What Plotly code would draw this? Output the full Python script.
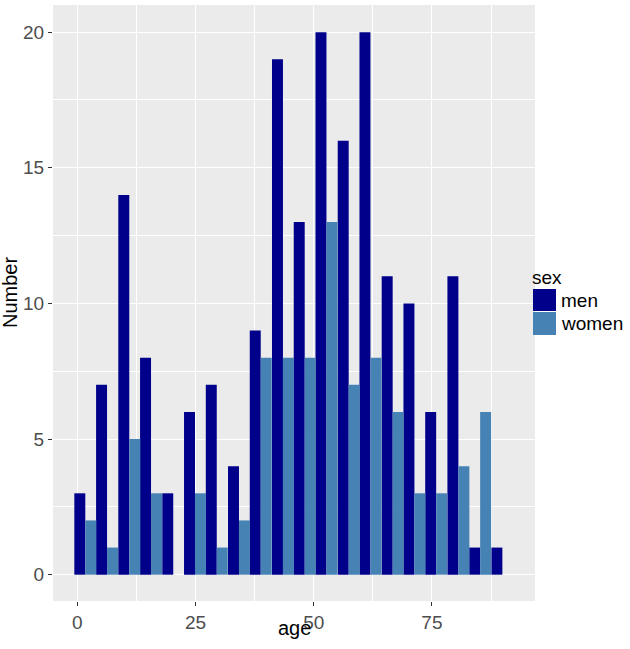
import plotly.graph_objects as go

# Data
age_centers = [1.7, 6.3, 11.0, 15.6, 20.3, 24.9, 29.5, 34.2, 38.8, 43.5,
               48.1, 52.7, 57.4, 62.0, 66.7, 71.3, 75.9, 80.6, 85.2, 89.9]
men = [3, 7, 14, 8, 3, 6, 7, 4, 9, 19, 13, 20, 16, 20, 11, 10, 6, 11, 1, 1]
women = [2, 1, 5, 3, 0, 3, 1, 2, 8, 8, 8, 13, 7, 8, 6, 3, 3, 4, 6, 0]
series_names = ["men", "women"]
x_ticks = [0, 25, 50, 75]
y_ticks = [0, 5, 10, 15, 20]

MEN_COLOR = "#00008B"
WOMEN_COLOR = "#4682B4"
HALF = 2.32
FONT = "Liberation Sans, Arial, sans-serif"

fig = go.Figure()
fig.add_trace(go.Bar(x=age_centers, y=men, name=series_names[0], width=HALF, offset=-HALF,
                     marker=dict(color=MEN_COLOR, line=dict(width=0)), showlegend=False))
fig.add_trace(go.Bar(x=age_centers, y=women, name=series_names[1], width=HALF, offset=0,
                     marker=dict(color=WOMEN_COLOR, line=dict(width=0)), showlegend=False))

fig.update_layout(
    width=630, height=649,
    margin=dict(l=53, r=95, t=5, b=48, autoexpand=False),
    paper_bgcolor="white",
    plot_bgcolor="#EBEBEB",
    barmode="overlay",
    font=dict(family=FONT, size=19, color="#4D4D4D"),
    xaxis=dict(range=[-5.13, 96.8], tickvals=x_ticks, ticktext=[str(v) for v in x_ticks],
               automargin=False,
               showgrid=True, gridcolor="white", gridwidth=1.1, zeroline=False,
               ticks="outside", ticklen=4, tickcolor="#333333", tickwidth=1,
               tickfont=dict(size=19, color="#4D4D4D", family=FONT),
               minor=dict(tick0=0, dtick=12.5, showgrid=True, gridcolor="white", gridwidth=0.55, ticks=""),
               showline=False),
    yaxis=dict(range=[-0.97, 21.0], tickvals=y_ticks, ticktext=[str(v) for v in y_ticks],
               automargin=False,
               showgrid=True, gridcolor="white", gridwidth=1.1, zeroline=False,
               ticks="outside", ticklen=4, tickcolor="#333333", tickwidth=1,
               tickfont=dict(size=19, color="#4D4D4D", family=FONT),
               minor=dict(tick0=0, dtick=2.5, showgrid=True, gridcolor="white", gridwidth=0.55, ticks=""),
               showline=False),
)

PH = 649 - 5 - 48  # plot height in px
PW = 630 - 53 - 95

def px_to_paper_y(py):
    return (649 - 48 - py) / PH

def px_to_paper_x(px):
    return (px - 53) / PW

annotations = [
    dict(text="age", x=0.5, y=px_to_paper_y(628), xref="paper", yref="paper",
         xanchor="center", yanchor="middle", showarrow=False,
         font=dict(size=20, color="black", family=FONT)),
    dict(text="Number", x=px_to_paper_x(10), y=px_to_paper_y(293), xref="paper", yref="paper",
         xanchor="center", yanchor="middle", textangle=-90, showarrow=False,
         font=dict(size=20, color="black", family=FONT)),
    dict(text="sex", x=px_to_paper_x(530), y=px_to_paper_y(277), xref="paper", yref="paper",
         xanchor="left", yanchor="middle", showarrow=False,
         font=dict(size=19, color="black", family=FONT)),
    dict(text=series_names[0], x=px_to_paper_x(559), y=px_to_paper_y(300), xref="paper", yref="paper",
         xanchor="left", yanchor="middle", showarrow=False,
         font=dict(size=19, color="black", family=FONT)),
    dict(text=series_names[1], x=px_to_paper_x(559), y=px_to_paper_y(323), xref="paper", yref="paper",
         xanchor="left", yanchor="middle", showarrow=False,
         font=dict(size=19, color="black", family=FONT)),
]
fig.update_layout(annotations=annotations)

shapes = [
    dict(type="rect", xref="paper", yref="paper",
         x0=px_to_paper_x(533), x1=px_to_paper_x(556),
         y0=px_to_paper_y(311), y1=px_to_paper_y(289),
         fillcolor=MEN_COLOR, line=dict(width=0)),
    dict(type="rect", xref="paper", yref="paper",
         x0=px_to_paper_x(533), x1=px_to_paper_x(556),
         y0=px_to_paper_y(335), y1=px_to_paper_y(312),
         fillcolor=WOMEN_COLOR, line=dict(width=0)),
]
fig.update_layout(shapes=shapes)

fig.write_html("out.html",
               config={"displayModeBar": False},
               post_script="document.body.style.margin='0';document.body.style.padding='0';")
